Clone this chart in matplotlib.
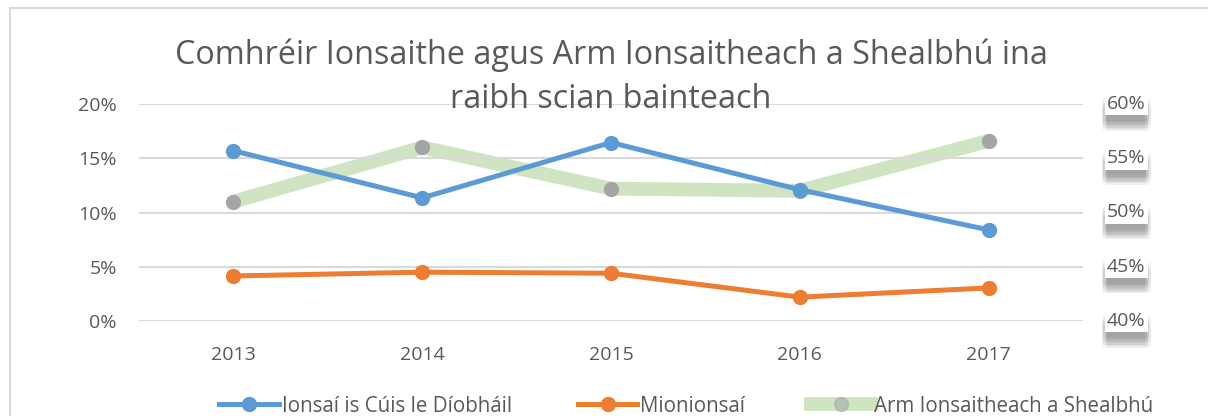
import matplotlib
matplotlib.use("Agg")
import matplotlib.pyplot as plt
import matplotlib.patheffects as pe
from matplotlib.lines import Line2D
from matplotlib.ticker import PercentFormatter
import matplotlib.transforms as mtransforms

plt.rcParams['font.family'] = ['Open Sans', 'DejaVu Sans']

# data
years = ['2013', '2014', '2015', '2016', '2017']
ionsai_cuis = [15.7, 11.35, 16.45, 12.1, 8.4]      # left axis, %
mionionsai = [4.15, 4.5, 4.4, 2.2, 3.05]          # left axis, %
arm_ionsaitheach = [51.0, 56.0, 52.2, 52.0, 56.6]  # right axis, %
left_ticks = [0, 5, 10, 15, 20]
right_ticks = [40, 45, 50, 55, 60]

title_1 = "Comhréir Ionsaithe agus Arm Ionsaitheach a Shealbhú ina"
title_2 = "raibh scian bainteach"
names = ["Ionsaí is Cúis le Díobháil", "Mionionsaí", "Arm Ionsaitheach a Shealbhú"]

txt = '#595959'
grid = '#D9D9D9'
blue = '#5B9BD5'
orange = '#ED7D31'
green = '#A9D18E'
gray = '#A5A5A5'

fig = plt.figure(figsize=(12.08, 4.16), dpi=100)
ax = fig.add_axes([139 / 1208, 1 - 321 / 416, (1083 - 139) / 1208, (321 - 104) / 416])
ax2 = ax.twinx()

x = range(len(years))
l1, = ax.plot(x, ionsai_cuis, color=blue, lw=3.6, marker='o', ms=10, zorder=3,
              solid_capstyle='round')
l2, = ax.plot(x, mionionsai, color=orange, lw=3.6, marker='o', ms=10, zorder=3,
              solid_capstyle='round')

ax.set_xlim(-0.5, len(years) - 0.5)
ax.set_ylim(left_ticks[0], left_ticks[-1])
ax.set_yticks(left_ticks)
ax.yaxis.set_major_formatter(PercentFormatter(decimals=0))
ax.set_xticks(list(x))
ax.set_xticklabels(years)
ax.grid(axis='y', color=grid, lw=1.5)
ax.set_axisbelow(True)
for s in ax.spines.values():
    s.set_visible(False)
ax.tick_params(axis='both', length=0, colors=txt, labelsize=14)
ax.tick_params(axis='y', pad=16)
ax.tick_params(axis='x', pad=18)

# secondary axis: green wide band with gray markers
ax2.plot(x, arm_ionsaitheach, color=green, lw=10, alpha=0.55, zorder=4,
         solid_capstyle='butt')
ax2.plot(x, arm_ionsaitheach, ls='none', marker='o', ms=10, color=gray, zorder=5)
ax2.set_ylim(right_ticks[0], right_ticks[-1])
ax2.set_yticks(right_ticks)
ax2.set_yticklabels([])
ax2.tick_params(length=0)
for s in ax2.spines.values():
    s.set_visible(False)
ax.set_zorder(ax2.get_zorder() + 1)
ax.patch.set_visible(False)

# right-hand labels: white box with a soft (blur-like) shadow underneath
trans = mtransforms.blended_transform_factory(ax2.transAxes, ax2.transData)
shadow = [pe.SimplePatchShadow(offset=(dx, dy), shadow_rgbFace='#7f7f7f', alpha=0.022)
          for dx in (-2, -1, 0, 1, 2) for dy in (-4, -5, -6, -7, -8, -9, -10, -11)]
for v in right_ticks:
    t = ax2.text(1 + 24 / 944, v, f"{v}%", transform=trans, ha='left', va='center',
                 color=txt, fontsize=14,
                 bbox=dict(boxstyle='square,pad=0.12', fc='white', ec='none'))
    t.get_bbox_patch().set_path_effects(shadow + [pe.Normal()])

fig.text(611 / 1208, 1 - 55 / 416, title_1, ha='center', va='center', color=txt, fontsize=23.3)
fig.text(611 / 1208, 1 - 100 / 416, title_2, ha='center', va='center', color=txt, fontsize=23.3)

# legend
h1 = Line2D([], [], color=blue, lw=3.6, marker='o', ms=10)
h2 = Line2D([], [], color=orange, lw=3.6, marker='o', ms=10)
h3 = Line2D([], [], color=green, lw=10, alpha=0.55, marker='o', ms=10,
            markerfacecolor=gray, markeredgecolor=gray)
fig.legend([h1, h2, h3], names, loc='center', bbox_to_anchor=(0.568, 10 / 416), ncol=3,
           frameon=False, fontsize=14.8, labelcolor=txt, handlelength=2.9,
           handletextpad=0.15, columnspacing=3.2)

# chart border
fig.add_artist(Line2D([10 / 1208, 1], [1 - 8 / 416] * 2, color=grid, lw=1.5))
fig.add_artist(Line2D([10 / 1208] * 2, [0, 1 - 8 / 416], color=grid, lw=1.5))

fig.savefig('out.png', dpi=100)
